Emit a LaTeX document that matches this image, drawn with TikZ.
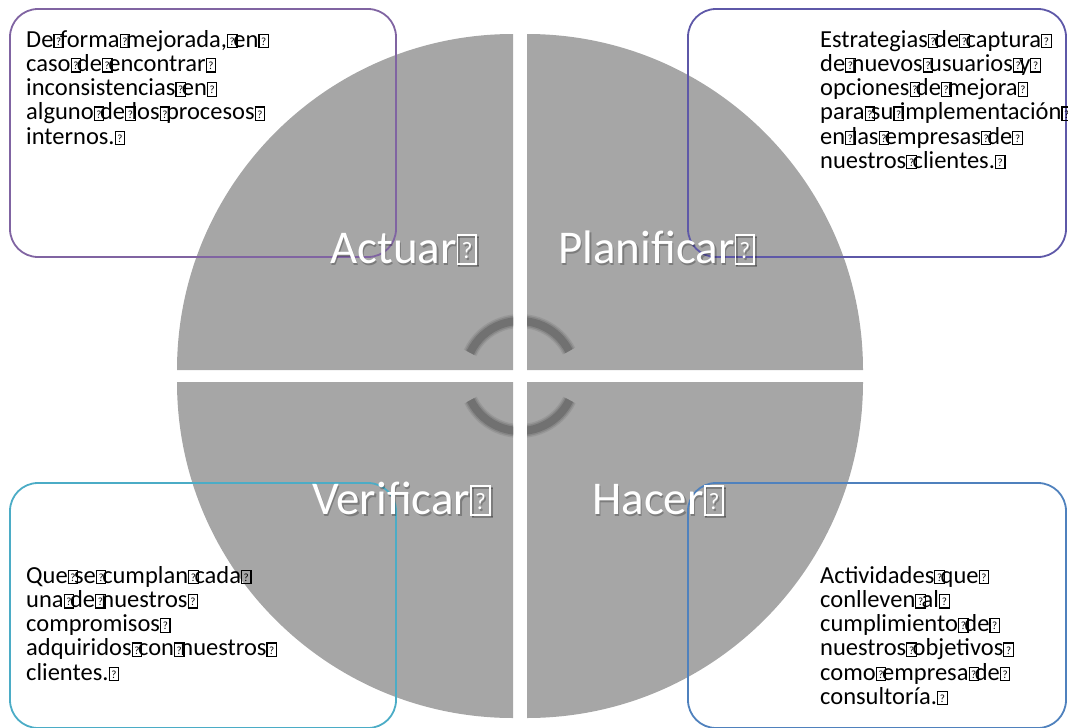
\documentclass[tikz,border=0pt]{standalone}
\usepackage{fontspec}
\usepackage{graphicx}
\setmainfont{Carlito}
\definecolor{quad}{HTML}{A6A6A6}
\definecolor{arcc}{HTML}{717171}
\definecolor{cTL}{HTML}{8064A2}
\definecolor{cTR}{HTML}{5E58A8}
\definecolor{cBL}{HTML}{4BACC6}
\definecolor{cBR}{HTML}{4F81BD}
\newcommand\qb{{\setlength\fboxsep{0pt}\setlength\fboxrule{0.045em}\fbox{\makebox[0.34em]{\rule{0pt}{0.5em}\raisebox{0.07em}{\scalebox{0.45}{?}}}}}}
\newcommand\qs{\qb\kern-0.17em}
\newcommand\qL{{\setlength\fboxsep{0pt}\setlength\fboxrule{0.04em}\fbox{\makebox[0.36em]{\rule{0pt}{0.58em}\raisebox{0.1em}{\scalebox{0.5}{?}}}}}}
\tikzset{
  quadfill/.style={fill=quad},
  panel/.style={line width=1.8pt, rounded corners=28pt},
  bodytext/.style={inner sep=0pt, anchor=north west, align=left, font=\fontsize{24.5}{24.2}\selectfont},
  phase/.style={inner sep=0pt, anchor=base west, text=white, font=\fontsize{47}{50}\selectfont},
  phaseshadow/.style={inner sep=0pt, anchor=base west, text=black, opacity=0.25, font=\fontsize{47}{50}\selectfont},
}
\begin{document}
\begin{tikzpicture}[x=1pt,y=-1pt]
\useasboundingbox (0,0) rectangle (1068,728);
% quadrants
\fill[quadfill] (513,370) -- ++(-336,0) arc[start angle=180, end angle=270, radius=336] -- cycle;
\fill[quadfill] (527,370) -- ++(0,-336) arc[start angle=270, end angle=360, radius=336] -- cycle;
\fill[quadfill] (527,382) -- ++(336,0) arc[start angle=0, end angle=90, radius=336] -- cycle;
\fill[quadfill] (513,382) -- ++(0,336) arc[start angle=90, end angle=180, radius=336] -- cycle;
% circular arcs
\begin{scope}
\clip (0,0) rectangle (513,370) (527,0) rectangle (1068,370) (0,382) rectangle (513,728) (527,382) rectangle (1068,728);
\foreach \w/\o in {14/0.25,11/0.45,8/1}{
  \draw[arcc, line width=\w pt, opacity=\o] (520,376) ++(-155:55) arc[start angle=-155, end angle=-27, radius=55];
  \draw[arcc, line width=\w pt, opacity=\o] (520,376) ++(154:55) arc[start angle=154, end angle=26, radius=55];
}
\end{scope}
% panels
\draw[panel, cTL] (10,9) rectangle (396,257);
\draw[panel, cTR] (688,9) rectangle (1066,257);
\draw[panel, cBL] (10,483) rectangle (396,728);
\draw[panel, cBR] (688,483) rectangle (1066,728);
% body texts
\node[bodytext] (tTL) at (26,30) {De\qs forma\qs mejorada,\qs en\qb\\caso\qs de\qs encontrar\qb\\inconsistencias\qs en\qb\\alguno\qs de\qs los\qs procesos\qb\\internos.\qb};
\node[bodytext] (tTR) at (820,30) {Estrategias\qs de\qs captura\qb\\de\qs nuevos\qs usuarios\qs y\qb\\opciones\qs de\qs mejora\qb\\para\qs su\qs implementación\qb\\en\qs las\qs empresas\qs de\qb\\nuestros\qs clientes.\qb};
\node[bodytext] (tBL) at (26,566) {Que\qs se\qs cumplan\qs cada\qb\\una\qs de\qs nuestros\qb\\compromisos\qb\\adquiridos\qs con\qs nuestros\qb\\clientes.\qb};
\node[bodytext] (tBR) at (820,566) {Actividades\qs que\qb\\conlleven\qs al\qb\\cumplimiento\qs de\qb\\nuestros\qs objetivos\qb\\como\qs empresa\qs de\qb\\consultoría.\qb};
% phase labels
\node[phaseshadow] (sA) at (331.5,265) {Actuar\qL};
\node[phaseshadow] (sP) at (559.5,265) {Planificar\qL};
\node[phaseshadow] (sV) at (313.5,516) {Verificar\qL};
\node[phaseshadow] (sH) at (593.5,516) {Hacer\qL};
\node[phase] (lA) at (330,263) {Actuar\qL};
\node[phase] (lP) at (558,263) {Planificar\qL};
\node[phase] (lV) at (312,514) {Verificar\qL};
\node[phase] (lH) at (592,514) {Hacer\qL};
\end{tikzpicture}
\end{document}
